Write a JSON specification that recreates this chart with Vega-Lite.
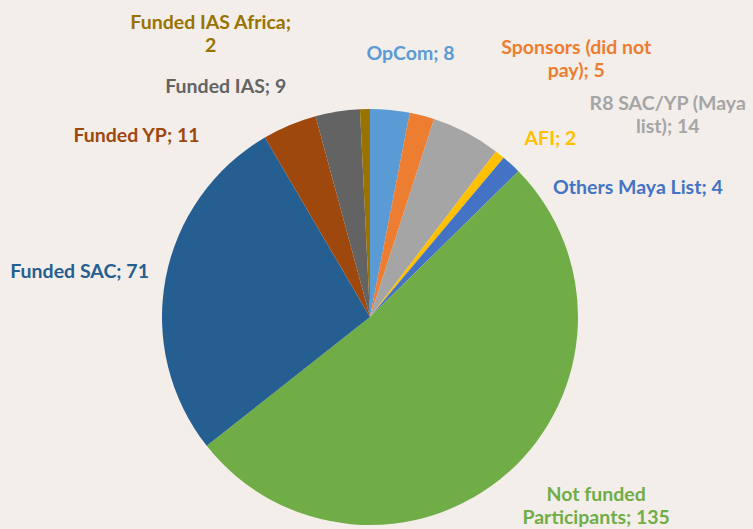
{
  "$schema": "https://vega.github.io/schema/vega-lite/v6.json",
  "width": 740,
  "height": 422,
  "autosize": {"type": "none"},
  "padding": {"left": 0, "top": 106, "right": 13, "bottom": 1},
  "background": "#F3EEEA",
  "config": {"view": {"stroke": null}},
  "data": {
    "values": [
      {"category": "OpCom", "label": "OpCom; 8", "value": 8},
      {"category": "Sponsors (did not pay)", "label": "Sponsors (did not\npay); 5", "value": 5},
      {"category": "R8 SAC/YP (Maya list)", "label": "R8 SAC/YP (Maya\nlist); 14", "value": 14},
      {"category": "AFI", "label": "AFI; 2", "value": 2},
      {"category": "Others Maya List", "label": "Others Maya List; 4", "value": 4},
      {"category": "Not funded Participants", "label": "Not funded\nParticipants; 135", "value": 135},
      {"category": "Funded SAC", "label": "Funded SAC; 71", "value": 71},
      {"category": "Funded YP", "label": "Funded YP; 11", "value": 11},
      {"category": "Funded IAS", "label": "Funded IAS; 9", "value": 9},
      {"category": "Funded IAS Africa", "label": "Funded IAS Africa;\n2", "value": 2}
    ]
  },
  "transform": [{"window": [{"op": "row_number", "as": "order"}]}],
  "encoding": {
    "theta": {"field": "value", "type": "quantitative", "stack": true},
    "order": {"field": "order", "type": "quantitative"},
    "color": {
      "field": "category",
      "type": "nominal",
      "legend": null,
      "scale": {
        "domain": ["OpCom", "Sponsors (did not pay)", "R8 SAC/YP (Maya list)", "AFI", "Others Maya List", "Not funded Participants", "Funded SAC", "Funded YP", "Funded IAS", "Funded IAS Africa"],
        "range": ["#5B9BD5", "#ED7D31", "#A5A5A5", "#FFC000", "#4472C4", "#70AD47", "#255E91", "#9E480E", "#636363", "#997300"]
      }
    }
  },
  "layer": [
    {"mark": {"type": "arc", "outerRadius": 208}},
    {
      "mark": {
        "type": "text",
        "radius": 265,
        "font": "Lato",
        "fontSize": 19.5,
        "fontWeight": "bold",
        "lineBreak": "\n",
        "lineHeight": 23,
        "align": "center",
        "baseline": "middle",
        "dx": {"expr": "datum.category === 'OpCom' ? 15 : datum.category === 'Sponsors (did not pay)' ? 140 : datum.category === 'R8 SAC/YP (Maya list)' ? 175 : datum.category === 'AFI' ? 15 : datum.category === 'Others Maya List' ? 88 : datum.category === 'Not funded Participants' ? 51 : datum.category === 'Funded SAC' ? -30 : datum.category === 'Funded YP' ? -131 : datum.category === 'Funded IAS' ? -103 : -153"},
        "dy": {"expr": "datum.category === 'OpCom' ? 1 : datum.category === 'Sponsors (did not pay)' ? -12 : datum.category === 'R8 SAC/YP (Maya list)' ? 22 : datum.category === 'AFI' ? 29 : datum.category === 'Others Maya List' ? 66 : datum.category === 'Not funded Participants' ? -21 : datum.category === 'Funded SAC' ? 4 : datum.category === 'Funded YP' ? 63 : datum.category === 'Funded IAS' ? 32 : -29"}
      },
      "encoding": {"text": {"field": "label"}}
    }
  ]
}
